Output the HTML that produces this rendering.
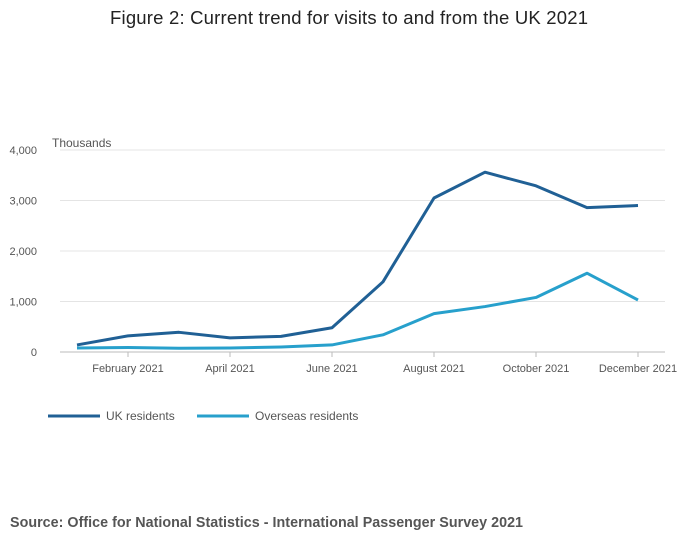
<!DOCTYPE html>
<html><head><meta charset="utf-8"><style>
body{margin:0;background:#fff;font-family:"Liberation Sans",sans-serif;}
#wrap{position:relative;width:700px;height:549px;}
</style></head><body>
<div id="wrap">
<svg id="chart" width="700" height="549">
<text x="349" y="24" text-anchor="middle" font-size="18.5" textLength="478" fill="#222">Figure 2: Current trend for visits to and from the UK 2021</text>
<text x="52" y="147" font-size="12" fill="#555">Thousands</text>
<g id="grid"></g><g id="lines"></g><g id="xt"></g>
<g>
<line x1="48" y1="416" x2="100" y2="416" stroke="#206095" stroke-width="3"/>
<text x="106" y="420" font-size="12" fill="#555">UK residents</text>
<line x1="197" y1="416" x2="249" y2="416" stroke="#27a0cc" stroke-width="3"/>
<text x="255" y="420" font-size="12" fill="#555">Overseas residents</text>
</g>
<text x="10" y="527" font-size="14.3" textLength="513" font-weight="bold" fill="#555">Source: Office for National Statistics - International Passenger Survey 2021</text>
</svg></div>
<script>
const months=["January 2021","February 2021","March 2021","April 2021","May 2021","June 2021","July 2021","August 2021","September 2021","October 2021","November 2021","December 2021"];
const ukResidents=[140,320,390,280,310,480,1390,3050,3560,3290,2860,2900];
const overseasResidents=[80,90,75,80,100,140,340,760,900,1080,1560,1030];
const yTicks=[0,1000,2000,3000,4000];
const NS="http://www.w3.org/2000/svg";
const x=i=>77+i*51;
const y=v=>352-v*202/4000;
function mk(t,a,p){const e=document.createElementNS(NS,t);for(const k in a)e.setAttribute(k,a[k]);p.appendChild(e);return e;}
const grid=document.getElementById('grid');
yTicks.forEach(v=>{
 const l=mk('line',{x1:60,x2:665,y1:y(v),y2:y(v),stroke:v===0?'#bbb':'#e4e4e4'},grid);
 
 
 const t=mk('text',{x:37,y:y(v)+4,'text-anchor':'end','font-size':11,fill:'#555'},grid);
 t.textContent=v.toLocaleString('en-US');
 
 
});
const xt=document.getElementById('xt');
months.forEach((m,i)=>{
 if(i%2===1){
  const tk=mk('line',{x1:x(i),x2:x(i),y1:352,y2:357,stroke:'#bbb'},xt);
  
  
  const t=mk('text',{x:x(i),y:372,'text-anchor':'middle','font-size':11,fill:'#555'},xt);
  t.textContent=m;
  
  
 }
});
const lines=document.getElementById('lines');
[[ukResidents,'#206095','uk-residents-line'],[overseasResidents,'#27a0cc','overseas-residents-line']].forEach(([d,c,n])=>{
 const p=mk('polyline',{points:d.map((v,i)=>x(i)+','+y(v)).join(' '),fill:'none',stroke:c,'stroke-width':3,'stroke-linejoin':'round'},lines);
 
 
});
</script>
</body></html>
